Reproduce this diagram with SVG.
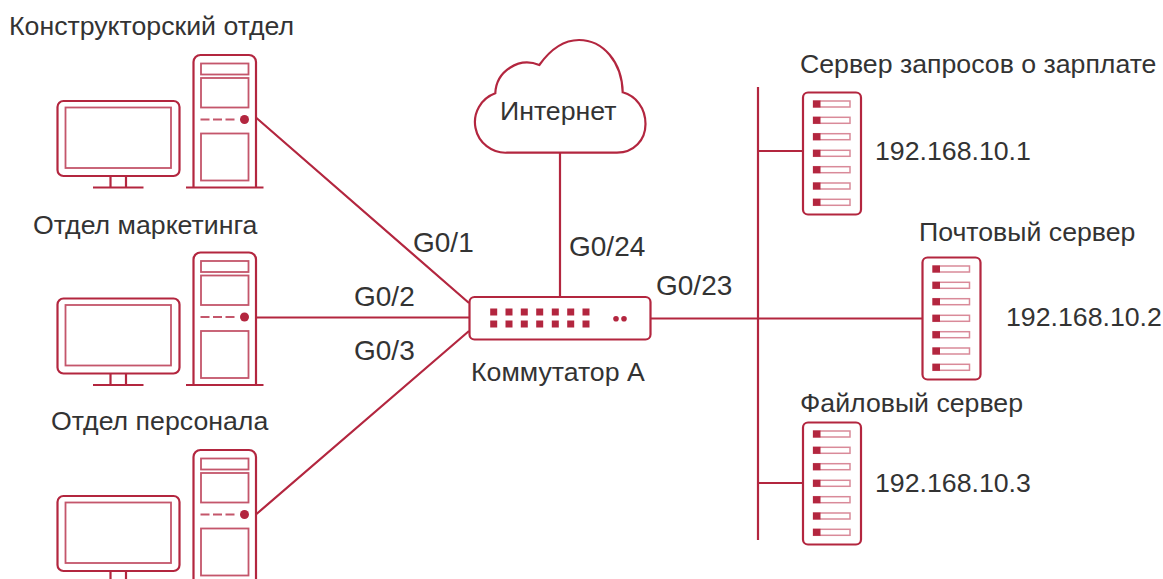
<svg xmlns="http://www.w3.org/2000/svg" xmlns:xlink="http://www.w3.org/1999/xlink" width="1163" height="579" viewBox="0 0 1163 579">
<style>
.l{fill:none;stroke:#b3263f;stroke-width:2.2}
.t{fill:none;stroke:#c4566b;stroke-width:1.8}
.f{fill:#b3263f;stroke:none}
text{font-family:"Liberation Sans",Arial,sans-serif;font-size:26.7px;fill:#333}
#ports text{font-size:28px}
</style>
<defs>
<g id="pc">
<rect class="l" x="57.5" y="101" width="122" height="75" rx="6"/>
<rect class="t" x="65.5" y="107.5" width="105.500" height="60.500"/>
<path class="l" d="M110.500 176V187M126 176V187M93 187.500H143.500"/>
<path class="l" d="M193.500 187V62a7 7 0 0 1 7-7H249a7 7 0 0 1 7 7V187M186 187.500H263.500"/>
<rect class="t" x="201" y="63.500" width="47.500" height="11"/>
<rect class="t" x="201" y="78" width="47.500" height="29.500"/>
<rect class="t" x="201" y="133.500" width="47.500" height="47"/>
<path class="t" d="M200.500 119.500H238" stroke-dasharray="9 3.500" style="stroke-width:2"/>
<circle class="f" cx="244.500" cy="119.500" r="4.500"/>
</g>
<g id="srv">
<rect class="l" x="803" y="92.500" width="58" height="122" rx="5"/>
<g id="slots">
<rect class="t" x="813.500" y="101" width="36.500" height="6" style="stroke:#d98a99;stroke-width:1.500"/><rect class="f" x="813" y="100.500" width="7.500" height="7"/>
<rect class="t" x="813.500" y="117.300" width="36.500" height="6" style="stroke:#d98a99;stroke-width:1.500"/><rect class="f" x="813" y="116.800" width="7.500" height="7"/>
<rect class="t" x="813.500" y="133.700" width="36.500" height="6" style="stroke:#d98a99;stroke-width:1.500"/><rect class="f" x="813" y="133.200" width="7.500" height="7"/>
<rect class="t" x="813.500" y="150.300" width="36.500" height="6" style="stroke:#d98a99;stroke-width:1.500"/><rect class="f" x="813" y="149.800" width="7.500" height="7"/>
<rect class="t" x="813.500" y="166.700" width="36.500" height="6" style="stroke:#d98a99;stroke-width:1.500"/><rect class="f" x="813" y="166.200" width="7.500" height="7"/>
<rect class="t" x="813.500" y="183" width="36.500" height="6" style="stroke:#d98a99;stroke-width:1.500"/><rect class="f" x="813" y="182.500" width="7.500" height="7"/>
<rect class="t" x="813.500" y="199.300" width="36.500" height="6" style="stroke:#d98a99;stroke-width:1.500"/><rect class="f" x="813" y="198.800" width="7.500" height="7"/>
</g>
</g>
</defs>
<rect width="1163" height="579" fill="#fff"/>
<g id="connectors">
<path class="l" d="M256.500 118L469 303M256 317.500H469.500M256.500 514L469 331M560 152V297M651 318.500H922M758 87V540M758 151H803M758 483H803"/>
</g>
<g id="pc1"><use xlink:href="#pc" href="#pc"/><text x="9" y="35">Конструкторский отдел</text></g>
<g id="pc2"><use xlink:href="#pc" href="#pc" y="197.500"/><text x="33" y="234">Отдел маркетинга</text></g>
<g id="pc3"><use xlink:href="#pc" href="#pc" y="395"/><text x="51" y="430">Отдел персонала</text></g>
<g id="cloud">
<path class="l" d="M507 152.700A30.600 30.600 0 0 1 495.300 93.300A32 32 0 0 1 539.300 65C550 50 564 40 579 40C603 40 622 62 622.700 92.300C636 96 645.500 108 645.500 124C645.500 140 634 152.700 617 152.700Z"/>
<text x="500" y="120">Интернет</text>
</g>
<g id="switch">
<rect class="l" x="469.500" y="297" width="181" height="42.500" rx="5"/>
<path class="f" d="M490.200 308.500h7v7h-7zM505.500 308.500h7v7h-7zM520.800 308.500h7v7h-7zM536.200 308.500h7v7h-7zM551.800 308.500h7v7h-7zM567.200 308.500h7v7h-7zM582.500 308.500h7v7h-7zM490.200 320.500h7v7h-7zM505.500 320.500h7v7h-7zM520.800 320.500h7v7h-7zM536.200 320.500h7v7h-7zM551.800 320.500h7v7h-7zM567.200 320.500h7v7h-7zM582.500 320.500h7v7h-7z"/>
<circle class="f" cx="616" cy="318.700" r="2.800"/><circle class="f" cx="624" cy="318.700" r="2.800"/>
<text x="471" y="381">Коммутатор А</text>
</g>
<g id="ports">
<text x="413" y="252">G0/1</text>
<text x="354" y="306">G0/2</text>
<text x="354" y="360">G0/3</text>
<text x="569" y="256">G0/24</text>
<text x="656" y="295">G0/23</text>
</g>
<g id="server1"><use xlink:href="#srv" href="#srv"/><text x="800" y="73">Сервер запросов о зарплате</text><text x="875" y="160">192.168.10.1</text></g>
<g id="server2"><use xlink:href="#srv" href="#srv" x="119.500" y="165"/><text x="919" y="241">Почтовый сервер</text><text x="1006" y="326">192.168.10.2</text></g>
<g id="server3"><use xlink:href="#srv" href="#srv" y="330"/><text x="800" y="412">Файловый сервер</text><text x="875" y="492">192.168.10.3</text></g>
</svg>
